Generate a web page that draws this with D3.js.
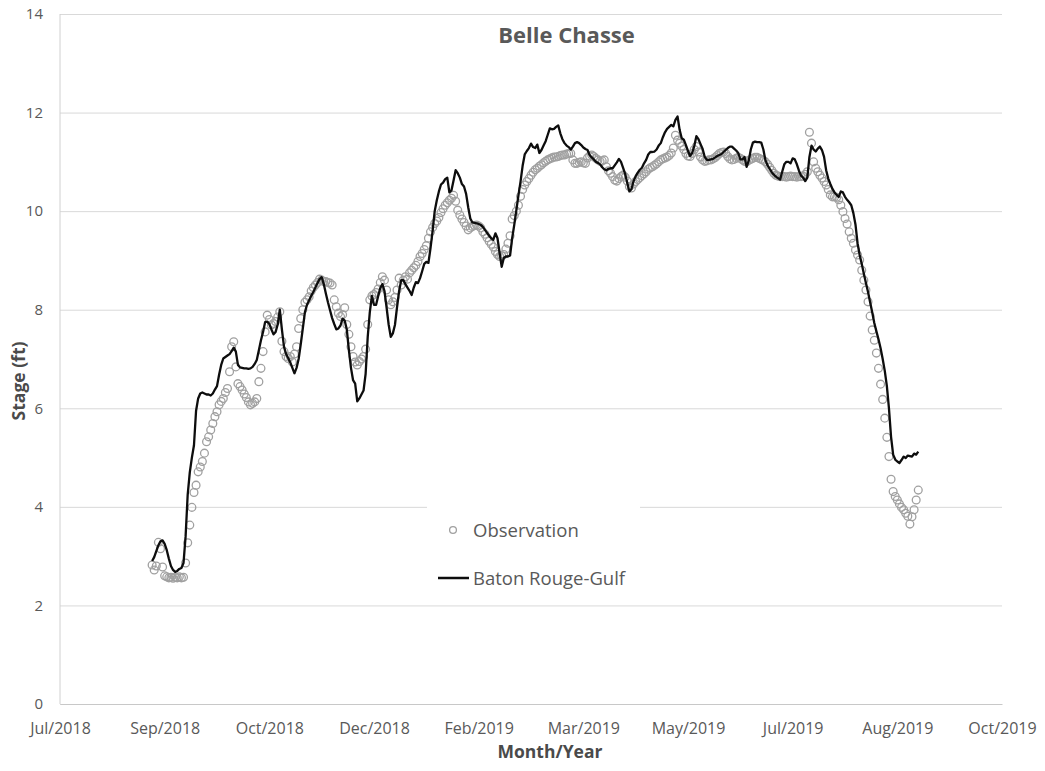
<!DOCTYPE html>
<html>
<head>
<meta charset="utf-8">
<script src="https://cdn.jsdelivr.net/npm/d3@7"></script>
<style>
  body { margin: 0; background: #fff; }
  text { font-family: "Open Sans", sans-serif; }
</style>
</head>
<body>
<div id="chart"></div>
<script>
// daily series, first value on obsStart
const obsStart = new Date(2018, 8, 2);

const observation = [
  2.82, 2.72, 2.80, 3.28, 3.15, 2.78, 2.60, 2.58, 2.56, 2.57,
  2.55, 2.57, 2.56, 2.58, 2.56, 2.57, 2.86, 3.27, 3.63, 3.99,
  4.29, 4.44, 4.71, 4.81, 4.92, 5.09, 5.32, 5.42, 5.56, 5.69,
  5.83, 5.93, 6.07, 6.14, 6.20, 6.32, 6.40, 6.74, 7.25, 7.35,
  6.84, 6.50, 6.44, 6.37, 6.29, 6.22, 6.13, 6.07, 6.10, 6.13,
  6.20, 6.54, 6.81, 7.15, 7.55, 7.89, 7.80, 7.69, 7.72, 7.76,
  7.85, 7.96, 7.36, 7.15, 7.05, 7.01, 7.05, 6.94, 7.10, 7.25,
  7.62, 7.82, 8.00, 8.15, 8.20, 8.26, 8.38, 8.45, 8.50, 8.55,
  8.62, 8.60, 8.57, 8.57, 8.55, 8.54, 8.50, 8.20, 8.06, 7.93,
  7.86, 7.90, 8.04, 7.70, 7.50, 7.25, 7.05, 6.94, 6.88, 6.95,
  7.00, 7.05, 7.20, 7.70, 8.20, 8.28, 8.31, 8.35, 8.42, 8.55,
  8.67, 8.60, 8.40, 8.20, 8.10, 8.16, 8.25, 8.40, 8.64, 8.50,
  8.60, 8.67, 8.62, 8.75, 8.80, 8.85, 8.90, 8.98, 9.08, 9.14,
  9.22, 9.30, 9.45, 9.58, 9.67, 9.75, 9.80, 9.87, 9.97, 10.05,
  10.12, 10.17, 10.22, 10.26, 10.32, 10.20, 10.02, 9.92, 9.84, 9.77,
  9.70, 9.62, 9.66, 9.69, 9.71, 9.72, 9.70, 9.66, 9.58, 9.53,
  9.46, 9.39, 9.33, 9.27, 9.18, 9.12, 9.08, 9.09, 9.12, 9.23,
  9.35, 9.50, 9.84, 9.91, 10.00, 10.12, 10.30, 10.44, 10.53, 10.60,
  10.66, 10.73, 10.79, 10.84, 10.87, 10.91, 10.94, 10.98, 11.01, 11.04,
  11.06, 11.08, 11.10, 11.10, 11.11, 11.13, 11.14, 11.14, 11.16, 11.17,
  11.17, 11.04, 10.97, 10.97, 10.99, 11.00, 10.98, 10.97, 11.08, 11.12,
  11.14, 11.11, 11.07, 11.04, 11.01, 11.02, 11.04, 10.90, 10.82, 10.77,
  10.70, 10.63, 10.61, 10.66, 10.70, 10.73, 10.69, 10.61, 10.50, 10.47,
  10.55, 10.60, 10.64, 10.68, 10.72, 10.76, 10.80, 10.85, 10.88, 10.90,
  10.93, 10.96, 11.00, 11.04, 11.06, 11.08, 11.10, 11.13, 11.18, 11.28,
  11.54, 11.44, 11.38, 11.32, 11.25, 11.17, 11.12, 11.11, 11.17, 11.25,
  11.31, 11.20, 11.10, 11.04, 11.01, 11.02, 11.04, 11.04, 11.06, 11.09,
  11.13, 11.17, 11.19, 11.20, 11.17, 11.11, 11.06, 11.04, 11.05, 11.07,
  11.09, 11.07, 11.04, 11.01, 11.00, 11.03, 11.05, 11.07, 11.09, 11.09,
  11.07, 11.05, 11.03, 11.00, 10.95, 10.89, 10.83, 10.77, 10.73, 10.71,
  10.70, 10.70, 10.70, 10.69, 10.70, 10.71, 10.70, 10.70, 10.69, 10.70,
  10.70, 10.71, 10.75, 10.80, 11.60, 11.38, 11.00, 10.87, 10.80, 10.73,
  10.67, 10.60, 10.53, 10.44, 10.33, 10.29, 10.29, 10.28, 10.23, 10.12,
  9.99, 9.85, 9.74, 9.58, 9.45, 9.35, 9.21, 9.11, 9.01, 8.80,
  8.60, 8.40, 8.16, 7.87, 7.59, 7.38, 7.12, 6.81, 6.49, 6.18,
  5.80, 5.41, 5.02, 4.56, 4.31, 4.21, 4.14, 4.06, 3.99, 3.94,
  3.87, 3.81, 3.65, 3.80, 3.94, 4.14, 4.34
];

const batonRougeGulf = [
  2.90, 2.98, 3.10, 3.22, 3.30, 3.32, 3.25, 3.12, 2.95, 2.80,
  2.72, 2.68, 2.70, 2.74, 2.76, 2.86, 3.40, 4.25, 4.70, 5.00,
  5.25, 5.95, 6.20, 6.30, 6.32, 6.30, 6.28, 6.28, 6.26, 6.30,
  6.38, 6.45, 6.68, 6.88, 7.01, 7.04, 7.07, 7.10, 7.16, 7.23,
  7.15, 6.88, 6.83, 6.82, 6.81, 6.81, 6.80, 6.81, 6.84, 6.90,
  6.98, 7.18, 7.38, 7.55, 7.75, 7.76, 7.71, 7.60, 7.50, 7.55,
  7.70, 8.00, 7.60, 7.25, 7.10, 7.02, 6.93, 6.82, 6.71, 6.82,
  7.00, 7.30, 7.62, 7.95, 8.10, 8.19, 8.28, 8.36, 8.45, 8.54,
  8.62, 8.66, 8.52, 8.33, 8.15, 7.99, 7.83, 7.71, 7.60, 7.62,
  7.68, 7.82, 7.78, 7.60, 7.18, 6.82, 6.57, 6.50, 6.14, 6.20,
  6.28, 6.36, 6.70, 7.45, 7.95, 8.28, 8.10, 8.10, 8.28, 8.44,
  8.52, 8.38, 8.05, 7.70, 7.45, 7.52, 7.69, 8.05, 8.38, 8.60,
  8.60, 8.52, 8.45, 8.38, 8.30, 8.45, 8.56, 8.54, 8.64, 8.78,
  8.93, 8.97, 8.95, 9.25, 9.60, 10.00, 10.22, 10.40, 10.54, 10.58,
  10.65, 10.68, 10.38, 10.42, 10.62, 10.83, 10.77, 10.68, 10.55, 10.50,
  10.35, 10.08, 9.85, 9.77, 9.76, 9.75, 9.74, 9.72, 9.68, 9.62,
  9.56, 9.50, 9.45, 9.42, 9.55, 9.45, 9.15, 8.87, 9.05, 9.08,
  9.08, 9.10, 9.45, 9.72, 10.02, 10.32, 10.60, 10.92, 11.15, 11.22,
  11.28, 11.37, 11.30, 11.28, 11.35, 11.18, 11.24, 11.33, 11.42, 11.55,
  11.68, 11.66, 11.67, 11.71, 11.74, 11.58, 11.46, 11.38, 11.33, 11.30,
  11.25, 11.31, 11.38, 11.40, 11.38, 11.34, 11.29, 11.26, 11.24, 11.14,
  11.09, 11.05, 11.00, 10.98, 10.95, 10.89, 10.85, 10.83, 10.86, 10.87,
  10.87, 10.93, 10.99, 11.06, 11.00, 10.88, 10.75, 10.57, 10.40, 10.45,
  10.61, 10.71, 10.78, 10.84, 10.88, 10.97, 11.04, 11.15, 11.20, 11.20,
  11.21, 11.25, 11.33, 11.38, 11.50, 11.60, 11.67, 11.71, 11.75, 11.72,
  11.85, 11.92, 11.65, 11.48, 11.45, 11.34, 11.22, 11.12, 11.18, 11.32,
  11.52, 11.46, 11.36, 11.26, 11.10, 11.04, 11.04, 11.05, 11.06, 11.09,
  11.12, 11.14, 11.16, 11.20, 11.24, 11.28, 11.31, 11.31, 11.27, 11.23,
  11.18, 11.05, 11.05, 11.10, 10.90, 11.02, 11.25, 11.39, 11.41, 11.40,
  11.40, 11.39, 11.25, 11.03, 10.93, 10.86, 10.79, 10.74, 10.70, 10.67,
  10.64, 10.80, 10.95, 11.00, 11.00, 10.97, 11.07, 11.05, 10.95, 10.82,
  10.72, 10.68, 10.61, 10.68, 11.10, 11.33, 11.25, 11.21, 11.27, 11.31,
  11.24, 11.10, 10.83, 10.66, 10.55, 10.45, 10.38, 10.33, 10.29, 10.40,
  10.38, 10.29, 10.23, 10.18, 10.12, 9.96, 9.73, 9.35, 9.11, 8.93,
  8.73, 8.54, 8.36, 8.15, 7.95, 7.73, 7.56, 7.40, 7.22, 7.00,
  6.76, 6.45, 6.00, 5.42, 5.06, 4.96, 4.92, 4.89, 4.95, 5.02,
  4.99, 5.04, 5.03, 5.02, 5.08, 5.06, 5.12
];

// axis: excel style date axis, 50 day major unit
const axisStart = new Date(2018, 6, 20);
const xTicks = d3.range(10).map(k => d3.timeDay.offset(axisStart, 50 * k));
const yTicks = [0, 2, 4, 6, 8, 10, 12, 14];

const width = 1045, height = 771;
const plotLeft = 60, plotRight = 1002, plotTop = 14, plotBottom = 704;

const svg = d3.select('#chart')
  .append('svg')
  .attr('width', width)
  .attr('height', height);

const xScale = d3.scaleTime()
  .domain([xTicks[0], xTicks[xTicks.length - 1]])
  .range([plotLeft, plotRight]);

const yScale = d3.scaleLinear()
  .domain([0, 14])
  .range([plotBottom, plotTop]);

const obsData = observation.map((v, i) => ({date: d3.timeDay.offset(obsStart, i), value: v}));
const lineData = batonRougeGulf.map((v, i) => ({date: d3.timeDay.offset(obsStart, i), value: v}));

// gridlines
svg.append('g')
  .attr('transform', 'translate(' + plotLeft + ',0)')
  .call(d3.axisLeft(yScale).tickValues(yTicks).tickSize(-(plotRight - plotLeft)).tickFormat(''))
  .call(g => g.select('.domain').remove())
  .selectAll('line')
  .attr('stroke', '#d9d9d9')
  .attr('stroke-width', 1);

// left axis line
svg.append('line')
  .attr('x1', plotLeft).attr('x2', plotLeft)
  .attr('y1', plotTop).attr('y2', plotBottom)
  .attr('stroke', '#d0d0d0');

// y tick labels
const yAxisG = svg.append('g')
  .attr('transform', 'translate(' + plotLeft + ',0)')
  .call(d3.axisLeft(yScale).tickValues(yTicks).tickSize(0).tickPadding(17));
yAxisG.select('.domain').remove();
yAxisG.selectAll('text')
  .style('font-family', '"Open Sans", sans-serif')
  .style('font-size', '15px')
  .attr('fill', '#595959');

// x axis
const xAxisG = svg.append('g')
  .attr('transform', 'translate(0,' + plotBottom + ')')
  .call(d3.axisBottom(xScale).tickValues(xTicks).tickFormat(d3.timeFormat('%b/%Y')).tickSize(0).tickPadding(19));
xAxisG.select('.domain').attr('stroke', '#c8c8c8');
xAxisG.selectAll('text')
  .style('font-family', '"Open Sans", sans-serif')
  .style('font-size', '16px')
  .attr('fill', '#595959');

// observation markers
svg.append('g')
  .selectAll('.obs')
  .data(obsData)
  .enter()
  .append('circle')
  .attr('class', 'obs')
  .attr('cx', d => xScale(d.date))
  .attr('cy', d => yScale(d.value))
  .attr('r', 3.9)
  .attr('fill', 'none')
  .attr('stroke', '#a0a0a0')
  .attr('stroke-width', 1.3);

// model line
const line = d3.line()
  .x(d => xScale(d.date))
  .y(d => yScale(d.value));

svg.append('path')
  .datum(lineData)
  .attr('d', line)
  .attr('fill', 'none')
  .attr('stroke', '#0d0d0d')
  .attr('stroke-width', 2.3)
  .attr('stroke-linejoin', 'round');

// title
svg.append('text')
  .attr('x', 566.5)
  .attr('y', 43)
  .attr('text-anchor', 'middle')
  .style('font-size', '22px')
  .style('font-weight', 'bold')
  .attr('fill', '#595959')
  .text('Belle Chasse');

// axis titles
svg.append('text')
  .attr('x', 550)
  .attr('y', 758)
  .attr('text-anchor', 'middle')
  .style('font-size', '17.5px')
  .style('font-weight', 'bold')
  .attr('fill', '#4a4a4a')
  .text('Month/Year');

svg.append('text')
  .attr('transform', 'translate(25,381) rotate(-90)')
  .attr('text-anchor', 'middle')
  .style('font-size', '17.5px')
  .style('font-weight', 'bold')
  .attr('fill', '#4a4a4a')
  .text('Stage (ft)');

// legend
const legend = svg.append('g');
legend.append('rect')
  .attr('x', 427).attr('y', 495)
  .attr('width', 213).attr('height', 104)
  .attr('fill', '#fff');
legend.append('circle')
  .attr('cx', 453).attr('cy', 530).attr('r', 3.4)
  .attr('fill', 'none').attr('stroke', '#a0a0a0').attr('stroke-width', 1.3);
legend.append('text')
  .attr('x', 473).attr('y', 537)
  .style('font-size', '18.5px')
  .attr('fill', '#595959')
  .text('Observation');
legend.append('line')
  .attr('x1', 438).attr('x2', 469)
  .attr('y1', 578).attr('y2', 578)
  .attr('stroke', '#0d0d0d').attr('stroke-width', 2.5);
legend.append('text')
  .attr('x', 473).attr('y', 585)
  .style('font-size', '18.5px')
  .attr('fill', '#595959')
  .text('Baton Rouge-Gulf');
</script>
</body>
</html>
